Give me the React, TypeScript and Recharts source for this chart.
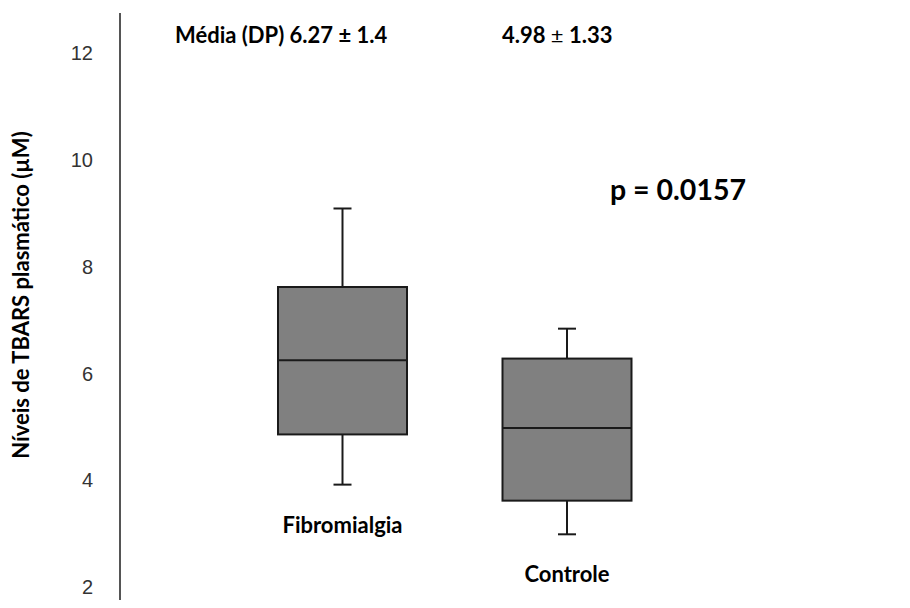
import React from "react";
import { ComposedChart, Bar, XAxis, YAxis, LabelList } from "recharts";

const categories = ["Fibromialgia", "Controle"];
const minVals = [3.92, 2.99];
const q1Vals = [4.86, 3.62];
const medianVals = [6.25, 4.98];
const q3Vals = [7.62, 6.28];
const maxVals = [9.09, 6.84];
const yTicks = [2, 4, 6, 8, 10, 12];

const data = categories.map((name, i) => ({
  name,
  min: minVals[i],
  q1: q1Vals[i],
  median: medianVals[i],
  q3: q3Vals[i],
  max: maxVals[i],
}));

const INK = "#1a1a1a";
const TEXT_FONT = "Lato, 'Open Sans', sans-serif";

const BoxShape = (props: any) => {
  const { x, y, width, height, payload } = props;
  if (!payload) return null;
  const top = Math.min(y, y + height);
  const bottom = Math.max(y, y + height);
  const span = payload.max - payload.min;
  const py = (v: number) => top + ((payload.max - v) / span) * (bottom - top);
  const cx = x + width / 2;
  const cap = 9;
  const yQ3 = py(payload.q3);
  const yQ1 = py(payload.q1);
  const yMed = py(payload.median);
  return (
    <g>
      <line x1={cx} x2={cx} y1={top} y2={yQ3} stroke={INK} strokeWidth={2} />
      <line x1={cx} x2={cx} y1={yQ1} y2={bottom} stroke={INK} strokeWidth={2} />
      <line x1={cx - cap} x2={cx + cap} y1={top} y2={top} stroke={INK} strokeWidth={2} />
      <line x1={cx - cap} x2={cx + cap} y1={bottom} y2={bottom} stroke={INK} strokeWidth={2} />
      <rect x={x} y={yQ3} width={width} height={yQ1 - yQ3} fill="#808080" stroke={INK} strokeWidth={2} />
      <line x1={x} x2={x + width} y1={yMed} y2={yMed} stroke={INK} strokeWidth={2} />
    </g>
  );
};

const CatLabel = (props: any) => {
  const { x, y, width, height, value } = props;
  const bottom = Math.max(y, y + height);
  return (
    <text
      x={x + width / 2}
      y={bottom + 48}
      textAnchor="middle"
      fontFamily={TEXT_FONT}
      fontWeight="bold"
      fontSize={22}
      fill="#000"
    >
      {value}
    </text>
  );
};

export default function App() {
  return (
    <div style={{ position: "absolute", left: 0, top: 0, width: 910, height: 608, background: "#fff" }}>
      <ComposedChart width={910} height={608} data={data} margin={{ top: 13, right: 131, bottom: 8, left: 0 }}>
        <XAxis dataKey="name" hide padding={{ left: 110, right: 100 }} />
        <YAxis
          type="number"
          width={120}
          domain={[1.76, 12.75]}
          ticks={yTicks}
          allowDataOverflow
          tickLine={false}
          tickSize={0}
          tickMargin={27}
          axisLine={{ stroke: "#555", strokeWidth: 2 }}
          tick={{ fill: "#333", fontSize: 20, fontFamily: "'Liberation Sans', sans-serif" }}
        />
        <Bar
          dataKey={(d: any) => [d.min, d.max]}
          barSize={129}
          shape={BoxShape}
          isAnimationActive={false}
        >
          <LabelList dataKey="name" content={CatLabel} />
        </Bar>
      </ComposedChart>
      <svg
        width={910}
        height={608}
        style={{ position: "absolute", left: 0, top: 0, pointerEvents: "none" }}
      >
        <text x={175} y={43} fontFamily={TEXT_FONT} fontWeight="bold" fontSize={22} fill="#000">
          Média (DP) 6.27 ± 1.4
        </text>
        <text x={502} y={43} fontFamily={TEXT_FONT} fontWeight="bold" fontSize={22} fill="#000">
          4.98 <tspan fontWeight="normal">±</tspan> 1.33
        </text>
        <text x={610} y={200} fontFamily={TEXT_FONT} fontWeight="bold" fontSize={28.5} fill="#000">
          p = 0.0157
        </text>
        <text
          transform="translate(29, 295) rotate(-90)"
          textAnchor="middle"
          fontFamily={TEXT_FONT}
          fontWeight="bold"
          fontSize={22}
          fill="#000"
        >
          Níveis de TBARS plasmático (µM)
        </text>
      </svg>
    </div>
  );
}
